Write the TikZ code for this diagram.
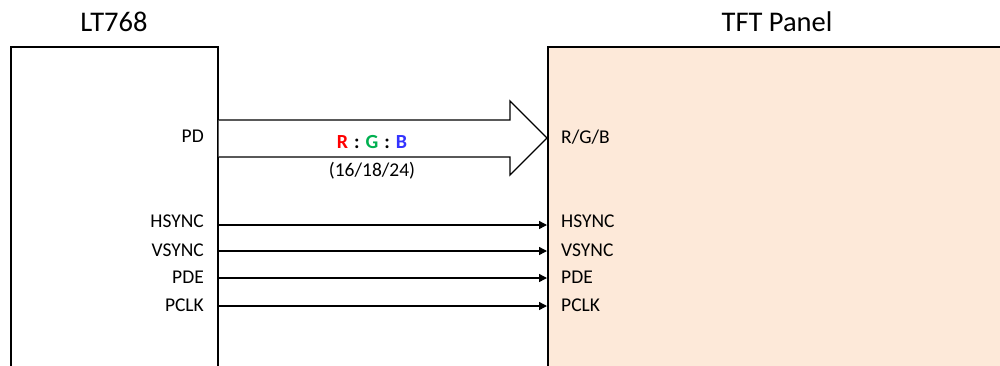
\documentclass[tikz,border=0pt]{standalone}
\usepackage{fontspec}
\setmainfont{Carlito}
\usetikzlibrary{arrows.meta}
\definecolor{panel}{HTML}{FDE9D9}
\definecolor{rr}{HTML}{FF0000}
\definecolor{gg}{HTML}{00B050}
\definecolor{bb}{HTML}{3333FF}
\begin{document}
\begin{tikzpicture}[x=1pt,y=-1pt,
  box/.style={draw=black, line width=1.6pt, inner sep=0pt, anchor=north west},
  title/.style={font=\fontsize{28.5}{30}\selectfont, inner sep=0pt},
  sig/.style={font=\fontsize{19.5}{21}\selectfont, inner sep=0pt},
  wire/.style={line width=1.4pt, -{Triangle[length=8pt,width=8pt]}},
  bus/.style={draw=black, line width=1.3pt, fill=white}]
\useasboundingbox (0,0) rectangle (1000,365);
\node[box, minimum width=207pt, minimum height=360pt] (lt) at (10,46) {};
\node[box, fill=panel, minimum width=480pt, minimum height=360pt] (tft) at (547,46) {};
\node[title] (ltt) at (114,22) {LT768};
\node[title] (tftt) at (777,22) {TFT Panel};
% bus arrow
\coordinate (b1) at (lt.east |- 0,120);
\coordinate (b2) at (lt.east |- 0,157);
\coordinate (tip) at (tft.west |- 0,138);
\draw[bus] (b1) -- (510,120) -- (510,101) -- (tip) -- (510,175) -- (510,157) -- (b2);
\node[sig, font=\fontsize{20}{21}\selectfont\bfseries] (rgb) at (372,142) {\textcolor{rr}{R}\hspace{6pt}:\hspace{6pt}\textcolor{gg}{G}\hspace{6pt}:\hspace{6pt}\textcolor{bb}{B}};
\node[sig] (bits) at (372,171) {(16/18/24)};
\node[sig, anchor=east] (pd) at (204,136) {PD};
\node[sig, anchor=west] (rgbin) at (561,137) {R/G/B};
% signals
\foreach \n/\y/\ty in {HSYNC/225/221.5, VSYNC/251/250, PDE/278/277.5, PCLK/306/305.5}{
  \node[sig, anchor=east] (l\n) at (204,\ty) {\n};
  \node[sig, anchor=west] (r\n) at (561,\ty) {\n};
  \draw[wire] (lt.east |- 0,\y) -- (tft.west |- 0,\y);
}
\end{tikzpicture}
\end{document}
